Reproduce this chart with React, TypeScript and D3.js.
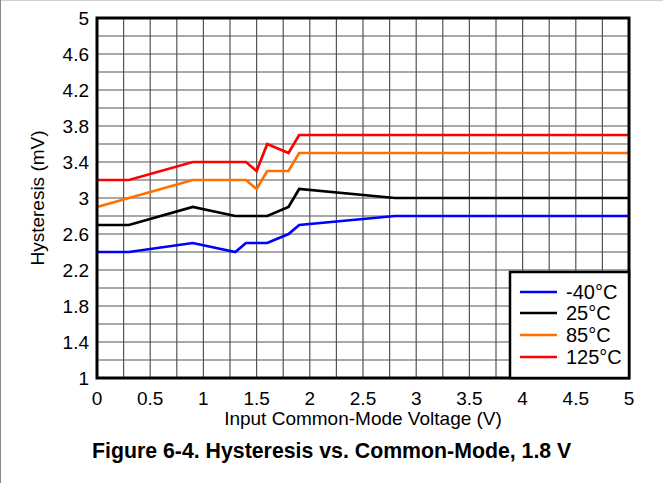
import React from "react";
import * as d3 from "d3";

const xs40 = [0, 0.3, 0.9, 1.3, 1.4, 1.6, 1.8, 1.9, 2.8, 5];
const ys40 = [2.4, 2.4, 2.5, 2.4, 2.5, 2.5, 2.6, 2.7, 2.8, 2.8];
const xs25 = [0, 0.3, 0.9, 1.3, 1.6, 1.8, 1.9, 2.8, 5];
const ys25 = [2.7, 2.7, 2.9, 2.8, 2.8, 2.9, 3.1, 3.0, 3.0];
const xs85 = [0, 0.9, 1.4, 1.5, 1.6, 1.8, 1.9, 5];
const ys85 = [2.9, 3.2, 3.2, 3.1, 3.3, 3.3, 3.5, 3.5];
const xs125 = [0, 0.3, 0.9, 1.4, 1.5, 1.6, 1.8, 1.9, 5];
const ys125 = [3.2, 3.2, 3.4, 3.4, 3.3, 3.6, 3.5, 3.7, 3.7];

const seriesNames = ["-40°C", "25°C", "85°C", "125°C"];
const seriesColors = ["#0000ff", "#000000", "#ff7000", "#ff0000"];
const seriesX = [xs40, xs25, xs85, xs125];
const seriesY = [ys40, ys25, ys85, ys125];

const xTicks = [0, 0.5, 1, 1.5, 2, 2.5, 3, 3.5, 4, 4.5, 5];
const yTicks = [1, 1.4, 1.8, 2.2, 2.6, 3, 3.4, 3.8, 4.2, 4.6, 5];

const W = 663;
const H = 483;
const L = 97, R = 629, T = 18, B = 378;

export default function App() {
  const x = d3.scaleLinear().domain([0, 5]).range([L, R]);
  const y = d3.scaleLinear().domain([1, 5]).range([B, T]);
  const xGrid = d3.range(0, 21).map((i) => i * 0.25);
  const yGrid = d3.range(0, 21).map((i) => 1 + i * 0.2);
  const line = d3
    .line<[number, number]>()
    .x((d) => x(d[0]))
    .y((d) => y(d[1]));
  const font = "'Liberation Sans', Arial, sans-serif";

  const lgL = 510, lgT = 272;
  const lgRows = [292, 313, 335, 357];

  return (
    <svg
      width={W}
      height={H}
      style={{ position: "absolute", left: 0, top: 0, background: "#fff" }}
      fontFamily={font}
    >
      <rect x={0} y={0} width={W} height={H} fill="#fff" />
      <line x1={0} y1={0.5} x2={W} y2={0.5} stroke="#d0d0d0" strokeWidth={1} />
      <line x1={0.5} y1={0} x2={0.5} y2={H} stroke="#888" strokeWidth={1} />
      <g>
        {xGrid.map((v, i) => (
          <line key={"xg" + i} x1={x(v)} x2={x(v)} y1={T} y2={B} stroke="#555" strokeWidth={1.2} />
        ))}
        {yGrid.map((v, i) => (
          <line key={"yg" + i} x1={L} x2={R} y1={y(v)} y2={y(v)} stroke="#555" strokeWidth={1.2} />
        ))}
      </g>
      {seriesX.map((xsArr, si) => (
        <path
          key={"s" + si}
          d={line(xsArr.map((v, i) => [v, seriesY[si][i]] as [number, number])) || ""}
          fill="none"
          stroke={seriesColors[si]}
          strokeWidth={2.7}
          strokeLinejoin="miter"
        />
      ))}
      <rect x={L} y={T} width={R - L} height={B - T} fill="none" stroke="#000" strokeWidth={3} />
      <rect x={lgL} y={lgT} width={R - lgL} height={B - lgT} fill="#fff" stroke="#000" strokeWidth={2.5} />
      {seriesNames.map((n, i) => (
        <g key={"lg" + i}>
          <line x1={520} x2={557} y1={lgRows[i]} y2={lgRows[i]} stroke={seriesColors[i]} strokeWidth={2.7} />
          <text x={566} y={lgRows[i] + 7} fontSize={20} fill="#000">
            {n}
          </text>
        </g>
      ))}
      {yTicks.map((v, i) => (
        <text key={"yt" + i} x={89} y={y(v) + 7} fontSize={19} textAnchor="end" fill="#000">
          {v}
        </text>
      ))}
      {xTicks.map((v, i) => (
        <text key={"xt" + i} x={x(v)} y={405} fontSize={19} textAnchor="middle" fill="#000">
          {v}
        </text>
      ))}
      <text x={(L + R) / 2} y={425} fontSize={19} textAnchor="middle" fill="#000">
        Input Common-Mode Voltage (V)
      </text>
      <text
        transform={`translate(44, ${(T + B) / 2}) rotate(-90)`}
        fontSize={19}
        textAnchor="middle"
        fill="#000"
      >
        Hysteresis (mV)
      </text>
      <text x={92} y={458} fontSize={21.3} fontWeight="bold" fill="#000">
        Figure 6-4. Hysteresis vs. Common-Mode, 1.8 V
      </text>
    </svg>
  );
}
